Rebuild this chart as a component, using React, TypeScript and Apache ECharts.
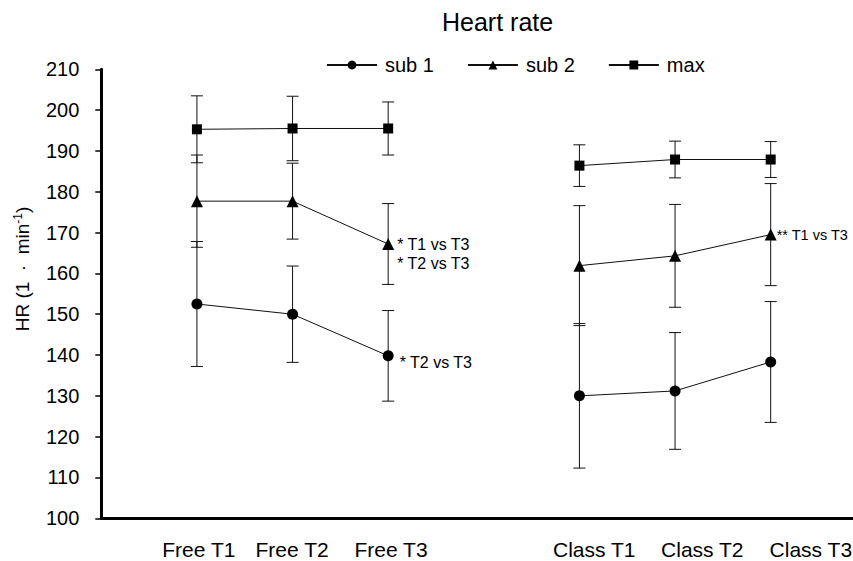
import React, { useEffect, useRef } from "react";
import * as echarts from "echarts";

const categories = ["Free T1", "Free T2", "Free T3", "Class T1", "Class T2", "Class T3"];
const xPos = [1, 2, 3, 5, 6, 7];
const labelAt = [1.02, 1.995, 3.03, 5.155, 6.285, 7.42];

const sub1Mean = [152.5, 150.0, 139.8, 130.0, 131.2, 138.3];
const sub1Sd = [15.3, 11.8, 11.1, 17.7, 14.3, 14.8];
const sub2Mean = [177.7, 177.7, 167.2, 161.9, 164.3, 169.5];
const sub2Sd = [11.3, 9.3, 9.9, 14.7, 12.6, 12.5];
const maxMean = [195.3, 195.5, 195.5, 186.4, 187.9, 187.9];
const maxSd = [8.2, 7.9, 6.5, 5.1, 4.5, 4.4];

const sub1Notes = ["", "", "* T2 vs T3", "", "", ""];
const sub2Notes = ["", "", "* T1 vs T3\n* T2 vs T3", "", "", "** T1 vs T3"];
const maxNotes = ["", "", "", "", "", ""];

const yTicks = { min: 100, max: 210, interval: 10 };

const FONT = "'Liberation Sans', Arial, sans-serif";

function lineData(means: number[], notes: string[], noteStyle: any[]) {
  const out: any[] = [];
  means.forEach((m, i) => {
    const item: any = { value: [xPos[i], m] };
    if (notes[i]) {
      item.label = {
        show: true,
        position: "right",
        formatter: notes[i],
        fontSize: 16,
        lineHeight: 19,
        color: "#000",
        fontFamily: FONT,
        ...(noteStyle[i] || {}),
      };
    }
    out.push(item);
    if (i === 2) out.push({ value: [4, "-"] });
  });
  return out;
}

function errData(means: number[], sds: number[]) {
  return means.map((m, i) => [xPos[i], m - sds[i], m + sds[i]]);
}

const renderErr = (params: any, api: any) => {
  const x = api.value(0);
  const lo = api.coord([x, api.value(1)]);
  const hi = api.coord([x, api.value(2)]);
  const cw = 6;
  const st = { stroke: "#111", lineWidth: 1 };
  return {
    type: "group",
    children: [
      { type: "line", shape: { x1: lo[0], y1: lo[1], x2: hi[0], y2: hi[1] }, style: st },
      { type: "line", shape: { x1: lo[0] - cw, y1: lo[1], x2: lo[0] + cw, y2: lo[1] }, style: st },
      { type: "line", shape: { x1: hi[0] - cw, y1: hi[1], x2: hi[0] + cw, y2: hi[1] }, style: st },
    ],
  };
};

export default function App() {
  const ref = useRef<HTMLDivElement>(null);
  useEffect(() => {
    if (!ref.current) return;
    const chart = echarts.init(ref.current, undefined, { renderer: "svg" });
    const lineCommon = {
      type: "line",
      z: 3,
      lineStyle: { color: "#111", width: 1 },
      itemStyle: { color: "#000" },
      connectNulls: false,
    };
    chart.setOption({
      animation: false,
      textStyle: { fontFamily: FONT },
      title: {
        text: "Heart rate",
        left: 442,
        top: 9,
        padding: 0,
        textStyle: { fontSize: 25, fontWeight: "normal", color: "#000", fontFamily: FONT },
      },
      legend: {
        data: ["sub 1", "sub 2", "max"],
        left: 326,
        top: 55,
        padding: 0,
        itemWidth: 50,
        itemHeight: 11,
        itemGap: 33,
        textStyle: { fontSize: 20, color: "#000", fontFamily: FONT, padding: [0, 0, 0, 3] },
      },
      grid: { left: 101.3, top: 69.3, width: 765, height: 449, outerBoundsMode: "none", containLabel: false },
      xAxis: {
        type: "value",
        min: 0,
        max: 8,
        interval: 1,
        axisLine: { onZero: false, lineStyle: { color: "#000", width: 3 } },
        axisTick: { show: false },
        splitLine: { show: false },
        axisLabel: {
          customValues: labelAt,
          fontSize: 21,
          color: "#000",
          margin: 21,
          fontFamily: FONT,
          formatter: (v: number) => {
            let best = 0;
            labelAt.forEach((p, i) => {
              if (Math.abs(p - v) < Math.abs(labelAt[best] - v)) best = i;
            });
            return categories[best];
          },
        },
      },
      yAxis: {
        type: "value",
        min: yTicks.min,
        max: yTicks.max,
        interval: yTicks.interval,
        axisLine: { show: true, onZero: false, lineStyle: { color: "#000", width: 3 } },
        axisTick: { show: true, length: 6, lineStyle: { color: "#000", width: 1.5 } },
        splitLine: { show: false },
        axisLabel: { fontSize: 20, color: "#000", margin: 22, fontFamily: FONT },
      },
      graphic: [
        {
          type: "text",
          x: 22,
          y: 269,
          rotation: Math.PI / 2,
          style: {
            text: "{a|HR (1  ·  min}{s|-1}{a|)}",
            align: "center",
            verticalAlign: "middle",
            rich: {
              a: { fontSize: 19, fill: "#000", fontFamily: FONT },
              s: { fontSize: 12, fill: "#000", fontFamily: FONT, verticalAlign: "top", padding: [0, 0, 8, 0] },
            },
          },
        },
      ],
      series: [
        {
          type: "custom",
          name: "err1",
          z: 1,
          renderItem: renderErr,
          encode: { x: 0, y: [1, 2] },
          data: errData(sub1Mean, sub1Sd),
        },
        {
          type: "custom",
          name: "err2",
          z: 1,
          renderItem: renderErr,
          encode: { x: 0, y: [1, 2] },
          data: errData(sub2Mean, sub2Sd),
        },
        {
          type: "custom",
          name: "errMax",
          z: 1,
          renderItem: renderErr,
          encode: { x: 0, y: [1, 2] },
          data: errData(maxMean, maxSd),
        },
        {
          ...lineCommon,
          name: "sub 1",
          symbol: "circle",
          symbolSize: 11,
          data: lineData(sub1Mean, sub1Notes, [null, null, { distance: 6, offset: [0, 7] }]),
        },
        {
          ...lineCommon,
          name: "sub 2",
          symbol: "triangle",
          symbolSize: 12,
          data: lineData(sub2Mean, sub2Notes, [
            null,
            null,
            { distance: 3, offset: [0, 9.5] },
            null,
            null,
            { distance: 0, offset: [0, 0], fontSize: 14.5 },
          ]),
        },
        {
          ...lineCommon,
          name: "max",
          symbol: "rect",
          symbolSize: 10,
          data: lineData(maxMean, maxNotes, []),
        },
      ],
    });
    return () => chart.dispose();
  }, []);
  return (
    <div
      ref={ref}
      style={{ position: "absolute", left: 0, top: 0, width: 853, height: 561, background: "#fff" }}
    />
  );
}
